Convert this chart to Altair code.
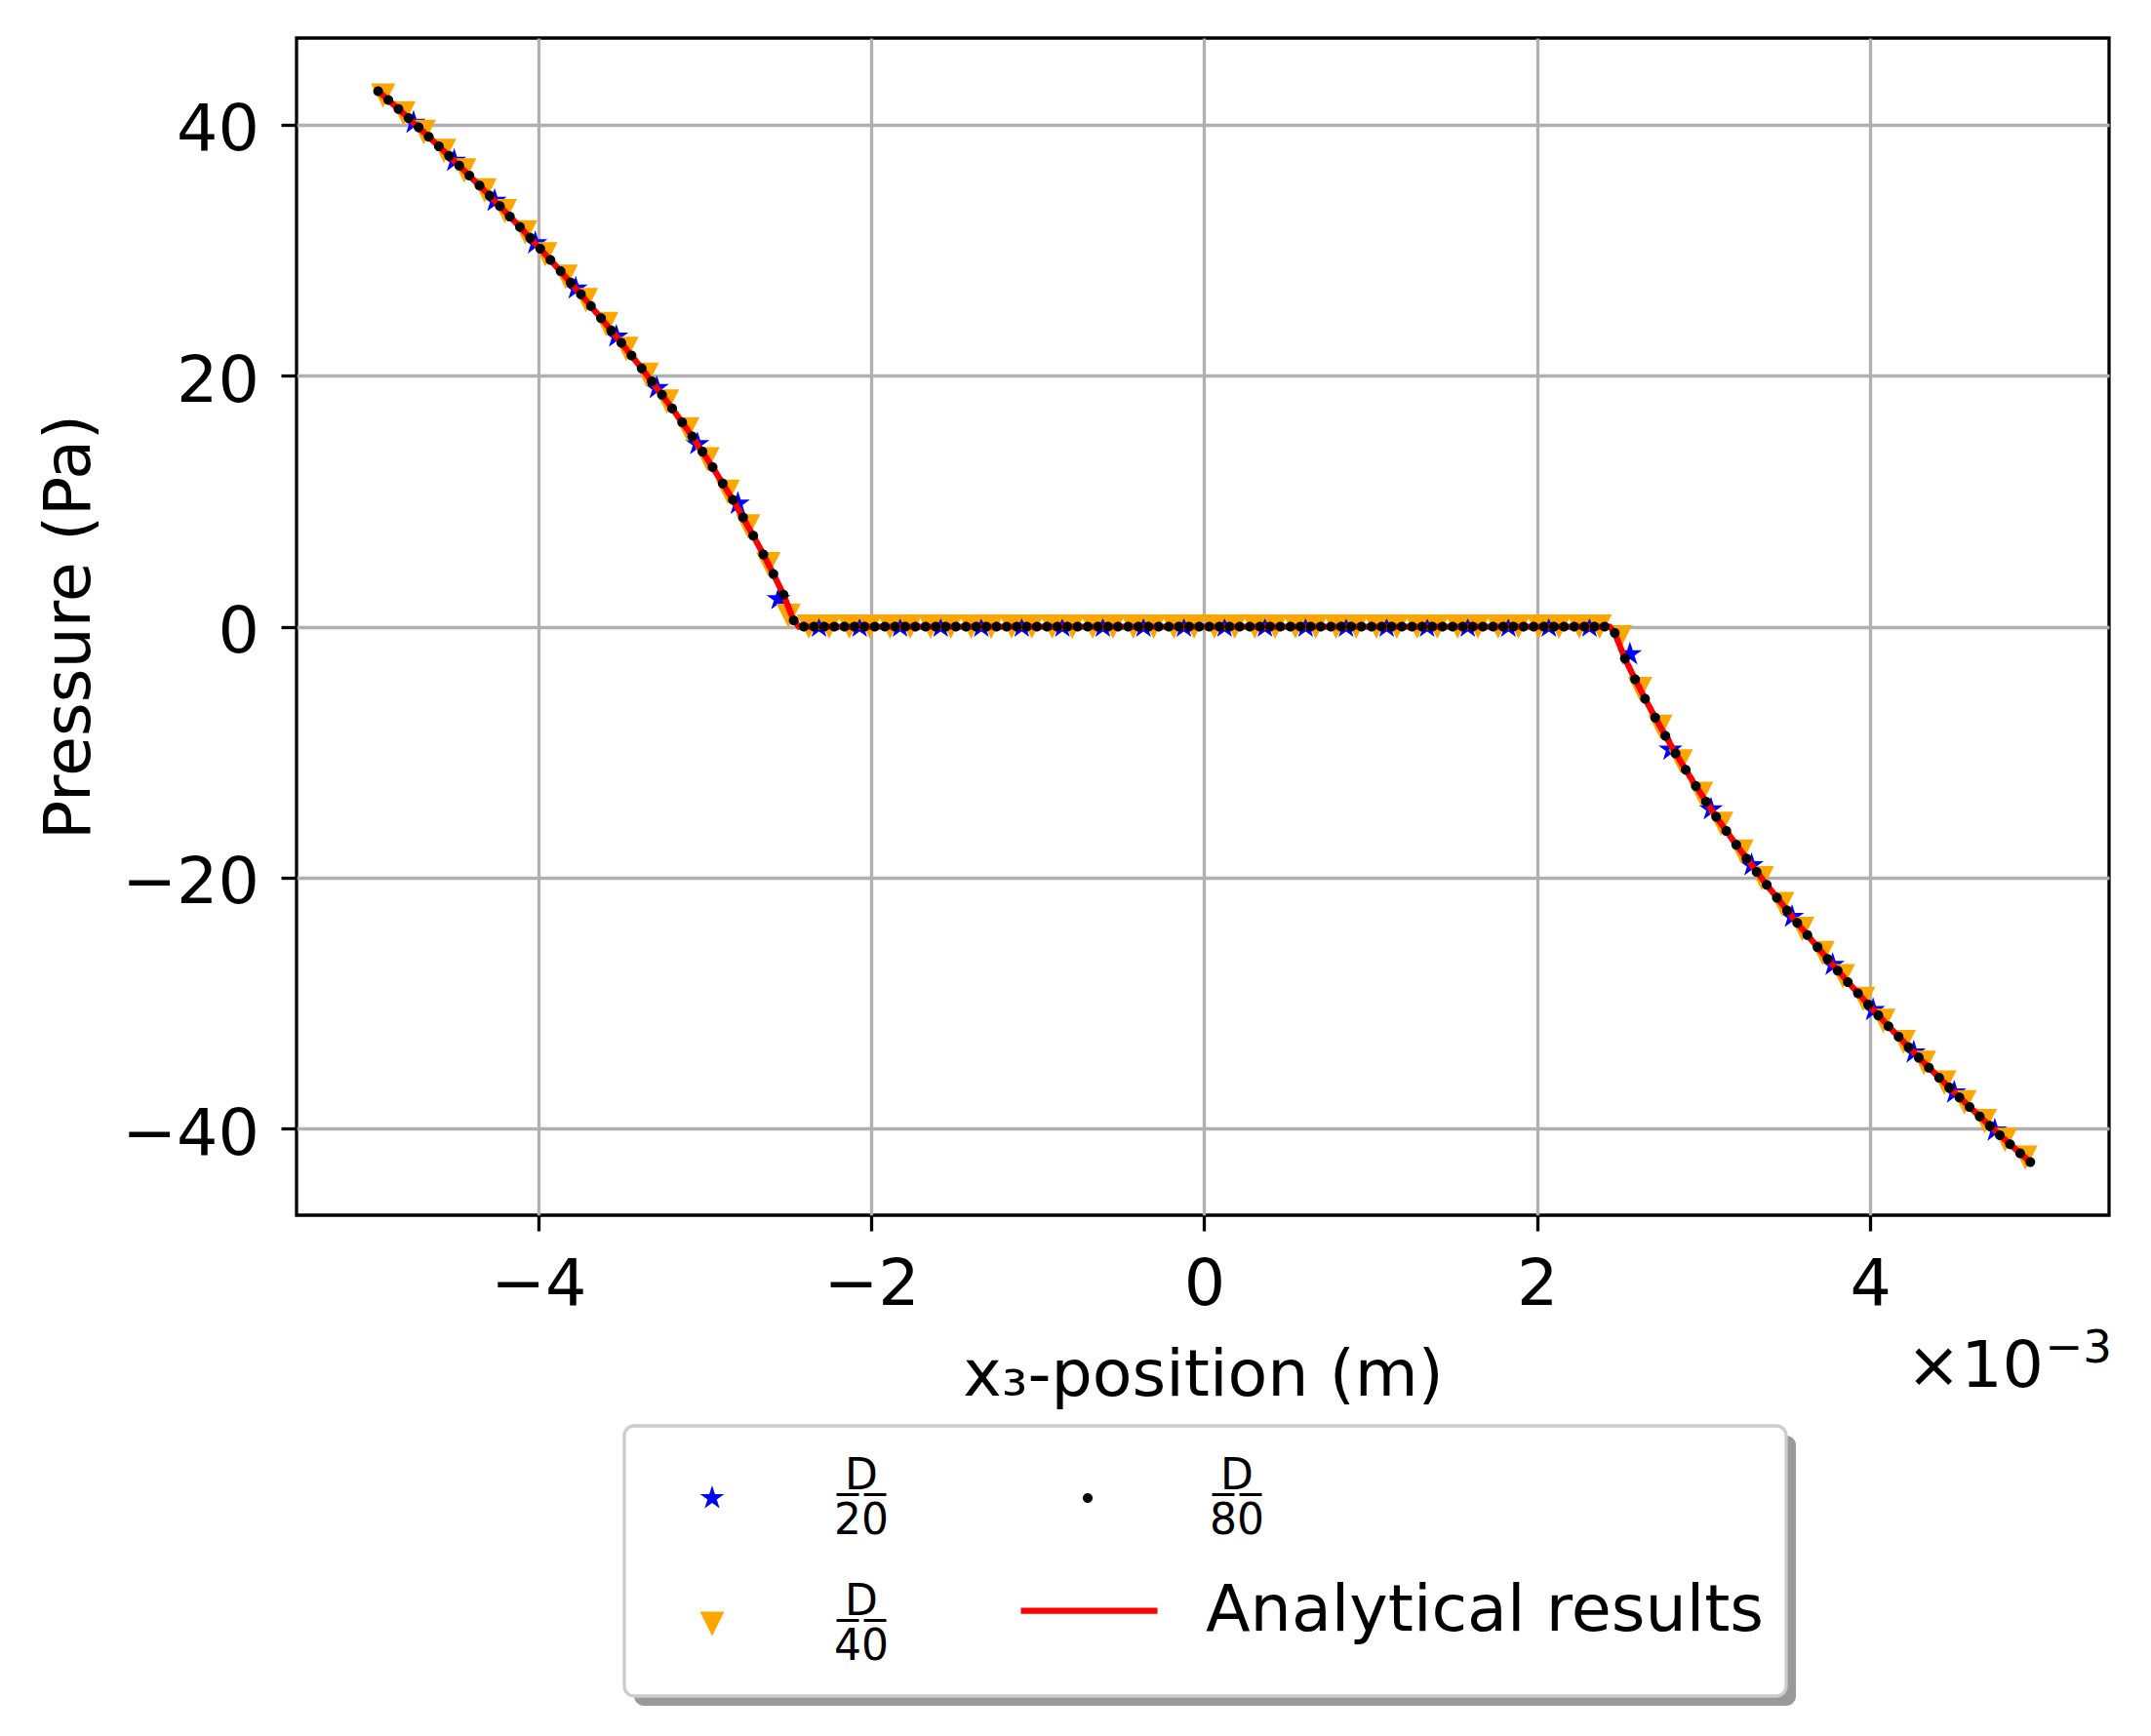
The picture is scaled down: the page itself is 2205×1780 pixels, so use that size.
import altair as alt
import pandas as pd

# ---------------- data (x in units of 1e-3 m, pressure in Pa) ----------------
x_d20 = [-4.749, -4.505, -4.262, -4.018, -3.775, -3.531, -3.288, -3.044, -2.801, -2.557,
         -2.314, -2.070, -1.827, -1.583, -1.339, -1.096, -0.852, -0.609, -0.365, -0.122,
         0.122, 0.365, 0.609, 0.852, 1.096, 1.339, 1.583, 1.827, 2.070, 2.314,
         2.557, 2.801, 3.044, 3.288, 3.531, 3.775, 4.018, 4.262, 4.505, 4.749]
p_d20 = [40.15, 37.12, 33.93, 30.55, 26.95, 23.12, 19.01, 14.55, 9.80, 2.20,
         0, 0, 0, 0, 0, 0, 0, 0, 0, 0,
         0, 0, 0, 0, 0, 0, 0, 0, 0, 0,
         -2.20, -9.80, -14.55, -19.01, -23.12, -26.95, -30.55, -33.93, -37.12, -40.15]

x_d40 = [-4.932, -4.810, -4.688, -4.566, -4.445, -4.323, -4.201, -4.079, -3.958, -3.836,
         -3.714, -3.592, -3.471, -3.349, -3.227, -3.105, -2.984, -2.862, -2.740, -2.618,
         -2.497, -2.375, -2.253, -2.131, -2.009, -1.887, -1.766, -1.644, -1.522, -1.400,
         -1.279, -1.157, -1.035, -0.913, -0.792, -0.670, -0.548, -0.426, -0.304, -0.183,
         -0.061,
         0.061, 0.183, 0.304, 0.426, 0.548, 0.670, 0.792, 0.913, 1.035, 1.157,
         1.279, 1.400, 1.522, 1.644, 1.766, 1.887, 2.009, 2.131, 2.253, 2.375,
         2.497, 2.618, 2.740, 2.862, 2.984, 3.105, 3.227, 3.349, 3.471, 3.592,
         3.714, 3.836, 3.958, 4.079, 4.201, 4.323, 4.445, 4.566, 4.688, 4.810,
         4.932]
p_d40 = [42.32, 40.89, 39.41, 37.90, 36.34, 34.75, 33.10, 31.41, 29.67, 27.87,
         26.01, 24.10, 22.12, 20.06, 17.93, 15.72, 13.33, 10.75, 7.98, 4.98,
         0.85, 0, 0, 0, 0, 0, 0, 0, 0, 0,
         0, 0, 0, 0, 0, 0, 0, 0, 0, 0,
         0,
         0, 0, 0, 0, 0, 0, 0, 0, 0, 0,
         0, 0, 0, 0, 0, 0, 0, 0, 0, 0,
         -0.85, -4.98, -7.98, -10.75, -13.33, -15.72, -17.93, -20.06, -22.12, -24.10,
         -26.01, -27.87, -29.67, -31.41, -33.10, -34.75, -36.34, -37.90, -39.41, -40.89,
         -42.32]

x_d80 = [-4.962, -4.901, -4.840, -4.779, -4.719, -4.658, -4.597, -4.536, -4.475, -4.414,
         -4.353, -4.292, -4.231, -4.171, -4.110, -4.049, -3.988, -3.927, -3.866, -3.805,
         -3.744, -3.684, -3.623, -3.562, -3.501, -3.440, -3.379, -3.318, -3.257, -3.196,
         -3.136, -3.075, -3.014, -2.953, -2.892, -2.831, -2.770, -2.709, -2.648, -2.588,
         -2.527, -2.466, -2.405, -2.344, -2.283, -2.222, -2.161, -2.101, -2.040, -1.979,
         -1.918, -1.857, -1.796, -1.735, -1.674, -1.613, -1.553, -1.492, -1.431, -1.370,
         -1.309, -1.248, -1.187, -1.126, -1.066, -1.005, -0.944, -0.883, -0.822, -0.761,
         -0.700, -0.639, -0.578, -0.518, -0.457, -0.396, -0.335, -0.274, -0.213, -0.152,
         -0.091, -0.030,
         0.030, 0.091, 0.152, 0.213, 0.274, 0.335, 0.396, 0.457, 0.518, 0.578,
         0.639, 0.700, 0.761, 0.822, 0.883, 0.944, 1.005, 1.066, 1.126, 1.187,
         1.248, 1.309, 1.370, 1.431, 1.492, 1.553, 1.613, 1.674, 1.735, 1.796,
         1.857, 1.918, 1.979, 2.040, 2.101, 2.161, 2.222, 2.283, 2.344, 2.405,
         2.466, 2.527, 2.588, 2.648, 2.709, 2.770, 2.831, 2.892, 2.953, 3.014,
         3.075, 3.136, 3.196, 3.257, 3.318, 3.379, 3.440, 3.501, 3.562, 3.623,
         3.684, 3.744, 3.805, 3.866, 3.927, 3.988, 4.049, 4.110, 4.171, 4.231,
         4.292, 4.353, 4.414, 4.475, 4.536, 4.597, 4.658, 4.719, 4.779, 4.840,
         4.901, 4.962]
p_d80 = [42.67, 41.97, 41.25, 40.52, 39.78, 39.03, 38.28, 37.51, 36.73, 35.95,
         35.15, 34.34, 33.52, 32.68, 31.84, 30.98, 30.11, 29.22, 28.32, 27.41,
         26.48, 25.54, 24.58, 23.61, 22.62, 21.61, 20.58, 19.54, 18.47, 17.39,
         16.28, 15.15, 13.95, 12.70, 11.40, 10.10, 8.70, 7.25, 5.75, 4.20,
         2.55, 0.50, 0, 0, 0, 0, 0, 0, 0, 0,
         0, 0, 0, 0, 0, 0, 0, 0, 0, 0,
         0, 0, 0, 0, 0, 0, 0, 0, 0, 0,
         0, 0, 0, 0, 0, 0, 0, 0, 0, 0,
         0, 0,
         0, 0, 0, 0, 0, 0, 0, 0, 0, 0,
         0, 0, 0, 0, 0, 0, 0, 0, 0, 0,
         0, 0, 0, 0, 0, 0, 0, 0, 0, 0,
         0, 0, 0, 0, 0, 0, 0, 0, 0, 0,
         -0.50, -2.55, -4.20, -5.75, -7.25, -8.70, -10.10, -11.40, -12.70, -13.95,
         -15.15, -16.28, -17.39, -18.47, -19.54, -20.58, -21.61, -22.62, -23.61, -24.58,
         -25.54, -26.48, -27.41, -28.32, -29.22, -30.11, -30.98, -31.84, -32.68, -33.52,
         -34.34, -35.15, -35.95, -36.73, -37.51, -38.28, -39.03, -39.78, -40.52, -41.25,
         -41.97, -42.67]

x_an = [-4.962, -4.840, -4.658, -4.475, -4.292, -4.110, -3.927, -3.744, -3.562, -3.379,
        -3.196, -3.075, -2.953, -2.831, -2.709, -2.648, -2.588, -2.527, -2.466, -2.435,
        2.435, 2.466, 2.527, 2.588, 2.648, 2.709, 2.831, 2.953, 3.075, 3.196,
        3.379, 3.562, 3.744, 3.927, 4.110, 4.292, 4.475, 4.658, 4.840, 4.962]
p_an = [42.67, 41.25, 39.03, 36.73, 34.34, 31.84, 29.22, 26.48, 23.61, 20.58,
        17.39, 15.15, 12.70, 10.10, 7.25, 5.75, 4.20, 2.55, 0.50, 0.0,
        0.0, -0.50, -2.55, -4.20, -5.75, -7.25, -10.10, -12.70, -15.15, -17.39,
        -20.58, -23.61, -26.48, -29.22, -31.84, -34.34, -36.73, -39.03, -41.25, -42.67]

x_ticks = [-4, -2, 0, 2, 4]
y_ticks = [-40, -20, 0, 20, 40]
series_names = ["D/20", "D/40", "D/80"]
analytical_name = "Analytical results"

# ---------------- styling ----------------
FONT = "DejaVu Sans"
FS = 66.7
STAR = ("M0,-1L0.2245,-0.309L0.9511,-0.309L0.3633,0.118L0.5878,0.809L0,0.382"
        "L-0.5878,0.809L-0.3633,0.118L-0.9511,-0.309L-0.2245,-0.309Z")
TRI = "M-0.96,-0.96L0.96,-0.96L0,0.96Z"
DOT = "M0.385,0A0.385,0.385,0,1,1,-0.385,0A0.385,0.385,0,1,1,0.385,0Z"
series_colors = ["#0000ff", "#ffa500", "#000000"]
series_shapes = [STAR, TRI, DOT]

W, H = 1858, 1207

df20 = pd.DataFrame({"x": x_d20, "p": p_d20, "series": "D/20"})
df40 = pd.DataFrame({"x": x_d40, "p": p_d40, "series": "D/40"})
df80 = pd.DataFrame({"x": x_d80, "p": p_d80, "series": "D/80"})
dfan = pd.DataFrame({"x": x_an, "p": p_an, "an": analytical_name})

x_enc = alt.X("x:Q",
              scale=alt.Scale(domain=[-5.452, 5.435], nice=False, zero=False),
              axis=alt.Axis(values=x_ticks, format="d", title="x₃-position (m)",
                            titleY=184, titleBaseline="alphabetic",
                            labelFlush=False, labelPadding=22.6))
y_enc = alt.Y("p:Q",
              scale=alt.Scale(domain=[-46.9, 46.9], nice=False, zero=False),
              axis=alt.Axis(values=y_ticks, format="d", title="Pressure (Pa)",
                            titleAngle=270, titleX=-212.6, titleY=H / 2,
                            titleBaseline="alphabetic", titleAlign="center",
                            labelPadding=22.6, labelOffset=6))

label_expr = ("datum.label == 'D/20' ? ['D', '2\u03050\u0305'] : "
              "datum.label == 'D/40' ? ['D', '4\u03050\u0305'] : ['D', '8\u03050\u0305']")

legA = alt.Legend(orient="none", legendX=404, legendY=1475, columns=2,
                  columnPadding=182, rowPadding=39, padding=0, title=None,
                  labelFont=FONT, labelFontSize=44, labelColor="black",
                  labelAlign="center", labelBaseline="bottom", labelOffset=131,
                  labelLimit=0, labelExpr=label_expr, symbolSize=680,
                  symbolStrokeWidth=0, symbolOpacity=1)

legB = alt.Legend(orient="none", legendX=739, legendY=1539, padding=0, title=None,
                  labelFont=FONT, labelFontSize=FS, labelColor="black",
                  labelOffset=46, labelLimit=0, symbolType="stroke",
                  symbolSize=19600, symbolStrokeColor="red", symbolStrokeWidth=6.25)


def points(df):
    return alt.Chart(df).mark_point(filled=True, opacity=1, size=680, strokeWidth=0).encode(
        x=x_enc, y=y_enc,
        color=alt.Color("series:N", sort=series_names,
                        scale=alt.Scale(domain=series_names, range=series_colors), legend=legA),
        shape=alt.Shape("series:N", sort=series_names,
                        scale=alt.Scale(domain=series_names, range=series_shapes), legend=legA),
    )


stars = points(df20)
tris = points(df40)
dots = points(df80)

line = alt.Chart(dfan).mark_line(color="red", strokeWidth=6.25).encode(
    x=x_enc, y=y_enc,
    strokeDash=alt.StrokeDash("an:N", scale=alt.Scale(domain=[analytical_name], range=[[1, 0]]), legend=legB),
)

one = pd.DataFrame({"k": [0]})
shadow = alt.Chart(one).mark_rect(fill="#999999", cornerRadius=10).encode(
    x=alt.value(346), x2=alt.value(1537), y=alt.value(1433), y2=alt.value(1710))
box = alt.Chart(one).mark_rect(fill="white", stroke="#cccccc", strokeWidth=3.3, cornerRadius=10).encode(
    x=alt.value(336), x2=alt.value(1527), y=alt.value(1423), y2=alt.value(1700))

offset_main = alt.Chart(one).mark_text(text="×10", align="right", baseline="alphabetic",
                                       font=FONT, fontSize=FS, color="black").encode(
    x=alt.value(1791), y=alt.value(1383))
offset_exp = alt.Chart(one).mark_text(text="−3", align="right", baseline="alphabetic",
                                      font=FONT, fontSize=46.7, color="black").encode(
    x=alt.value(1861), y=alt.value(1358))

chart = alt.layer(shadow, box, stars, tris, line, dots, offset_main, offset_exp).properties(
    width=W, height=H,
    autosize=alt.AutoSizeParams(type="none"),
    padding={"left": 296, "top": 31, "right": 30, "bottom": 520},
    background="white",
).configure_view(
    stroke="black", strokeWidth=3.3
).configure_axis(
    grid=True, gridColor="#b0b0b0", gridWidth=3.3, domain=False,
    tickColor="black", tickWidth=3.3, tickSize=16,
    labelFont=FONT, labelFontSize=FS, labelColor="black",
    titleFont=FONT, titleFontSize=FS, titleFontWeight="normal", titleColor="black",
)

chart.save("out.html", embed_options={"renderer": "svg", "actions": False})
